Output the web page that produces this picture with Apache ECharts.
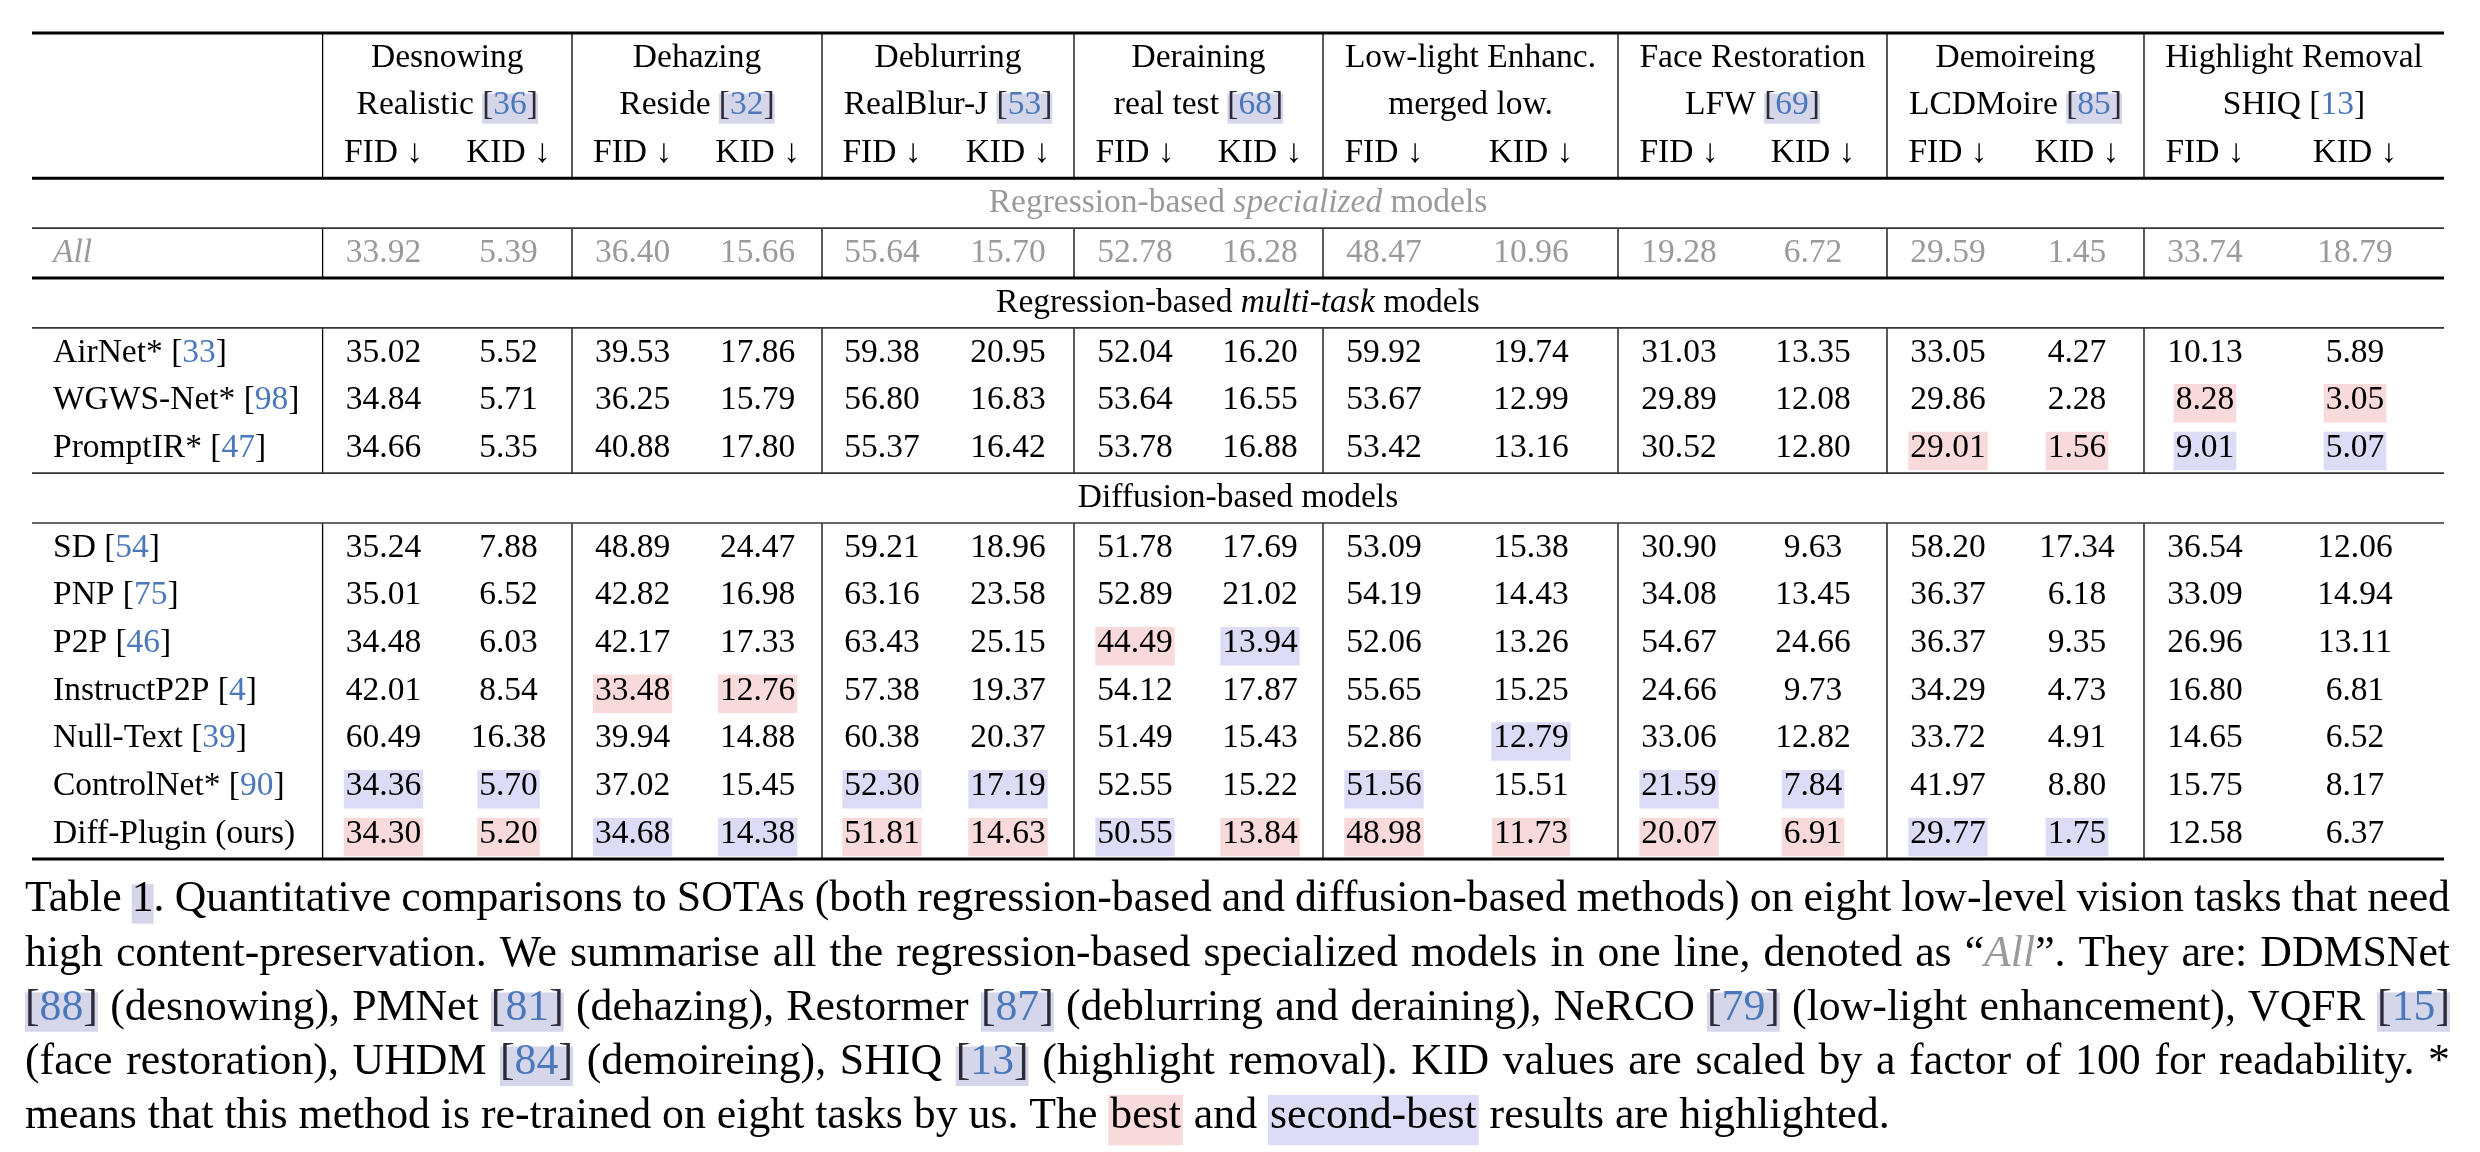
<!DOCTYPE html>
<html>
<head>
<meta charset="utf-8">
<script src="https://cdn.jsdelivr.net/npm/echarts@6/dist/echarts.min.js"></script>
<style>html,body{margin:0;padding:0;background:#fff}#c{width:2480px;height:1152px}</style>
</head>
<body>
<div id="c"></div>
<script>
// ---------------- DATA ----------------
const tasks = ['Desnowing', 'Dehazing', 'Deblurring', 'Deraining', 'Low-light Enhanc.', 'Face Restoration', 'Demoireing', 'Highlight Removal'];
const datasets = ['Realistic', 'Reside', 'RealBlur-J', 'real test', 'merged low.', 'LFW', 'LCDMoire', 'SHIQ'];
const datasetRefs = ['36', '32', '53', '68', '', '69', '85', '13'];
const datasetRefBoxed = [true, true, true, true, false, true, true, false];
const metrics = ['FID ↓', 'KID ↓'];

const sectionTitles = [
  ['Regression-based ', 'specialized', ' models'],
  ['Regression-based ', 'multi-task', ' models'],
  ['Diffusion-based models', '', '']
];

const specName = 'All';
const specValues = [33.92, 5.39, 36.40, 15.66, 55.64, 15.70, 52.78, 16.28, 48.47, 10.96, 19.28, 6.72, 29.59, 1.45, 33.74, 18.79];

const multiNames = ['AirNet*', 'WGWS-Net*', 'PromptIR*'];
const multiRefs = ['33', '98', '47'];
const multiValues = [
  [35.02, 5.52, 39.53, 17.86, 59.38, 20.95, 52.04, 16.20, 59.92, 19.74, 31.03, 13.35, 33.05, 4.27, 10.13, 5.89],
  [34.84, 5.71, 36.25, 15.79, 56.80, 16.83, 53.64, 16.55, 53.67, 12.99, 29.89, 12.08, 29.86, 2.28, 8.28, 3.05],
  [34.66, 5.35, 40.88, 17.80, 55.37, 16.42, 53.78, 16.88, 53.42, 13.16, 30.52, 12.80, 29.01, 1.56, 9.01, 5.07]
];
// 1 = best, 2 = second-best
const multiRanks = [
  [0,0,0,0,0,0,0,0,0,0,0,0,0,0,0,0],
  [0,0,0,0,0,0,0,0,0,0,0,0,0,0,1,1],
  [0,0,0,0,0,0,0,0,0,0,0,0,1,1,2,2]
];

const diffNames = ['SD', 'PNP', 'P2P', 'InstructP2P', 'Null-Text', 'ControlNet*', 'Diff-Plugin (ours)'];
const diffRefs = ['54', '75', '46', '4', '39', '90', ''];
const diffValues = [
  [35.24, 7.88, 48.89, 24.47, 59.21, 18.96, 51.78, 17.69, 53.09, 15.38, 30.90, 9.63, 58.20, 17.34, 36.54, 12.06],
  [35.01, 6.52, 42.82, 16.98, 63.16, 23.58, 52.89, 21.02, 54.19, 14.43, 34.08, 13.45, 36.37, 6.18, 33.09, 14.94],
  [34.48, 6.03, 42.17, 17.33, 63.43, 25.15, 44.49, 13.94, 52.06, 13.26, 54.67, 24.66, 36.37, 9.35, 26.96, 13.11],
  [42.01, 8.54, 33.48, 12.76, 57.38, 19.37, 54.12, 17.87, 55.65, 15.25, 24.66, 9.73, 34.29, 4.73, 16.80, 6.81],
  [60.49, 16.38, 39.94, 14.88, 60.38, 20.37, 51.49, 15.43, 52.86, 12.79, 33.06, 12.82, 33.72, 4.91, 14.65, 6.52],
  [34.36, 5.70, 37.02, 15.45, 52.30, 17.19, 52.55, 15.22, 51.56, 15.51, 21.59, 7.84, 41.97, 8.80, 15.75, 8.17],
  [34.30, 5.20, 34.68, 14.38, 51.81, 14.63, 50.55, 13.84, 48.98, 11.73, 20.07, 6.91, 29.77, 1.75, 12.58, 6.37]
];
const diffRanks = [
  [0,0,0,0,0,0,0,0,0,0,0,0,0,0,0,0],
  [0,0,0,0,0,0,0,0,0,0,0,0,0,0,0,0],
  [0,0,0,0,0,0,1,2,0,0,0,0,0,0,0,0],
  [0,0,1,1,0,0,0,0,0,0,0,0,0,0,0,0],
  [0,0,0,0,0,0,0,0,0,2,0,0,0,0,0,0],
  [2,2,0,0,2,2,0,0,2,0,2,2,0,0,0,0],
  [1,1,2,2,1,1,2,1,1,1,1,1,2,2,0,0]
];

const captionLines = [
  'Table {t:1}. Quantitative comparisons to SOTAs (both regression-based and diffusion-based methods) on eight low-level vision tasks that need',
  'high content-preservation. We summarise all the regression-based specialized models in one line, denoted as “{i:All}”. They are: DDMSNet',
  '{c:88} (desnowing), PMNet {c:81} (dehazing), Restormer {c:87} (deblurring and deraining), NeRCO {c:79} (low-light enhancement), VQFR {c:15}',
  '(face restoration), UHDM {c:84} (demoireing), SHIQ {c:13} (highlight removal). KID values are scaled by a factor of 100 for readability. *',
  'means that this method is re-trained on eight tasks by us. The {b:best} and {s:second-best} results are highlighted.'
];

// ---------------- LAYOUT / STYLE ----------------
const FAMILY = '"Liberation Serif", "Times New Roman", Times, serif';
const TFS = 33.5;
const fontN = s => s + 'px ' + FAMILY;
const fontI = s => 'italic ' + s + 'px ' + FAMILY;
const COL = { black: '#000', gray: '#9a9a9a', blue: '#4a78bb', bracket: '#2a2a38', citeBg: '#d6d6ea', best: '#f8dadb', second: '#dcdcf7', rule: '#000', thin: '#333' };
const tableLeft = 32, tableRight = 2444, methodX = 53;
const groupEdges = [322.6, 572, 822, 1074, 1323, 1618, 1887, 2144, 2444];
const colCenters = [383.5, 508.5, 632.6, 757.6, 882, 1008, 1135, 1260, 1384, 1531, 1679, 1813, 1948, 2077, 2205, 2355];
const hRules = [{ y: -0.5, w: 3.2, c: COL.rule }, { y: 2.5, w: 3.2, c: COL.rule }, { y: 3.5, w: 1.6, c: COL.thin }, { y: 4.5, w: 3.2, c: COL.rule },
                { y: 5.5, w: 1.6, c: COL.thin }, { y: 8.5, w: 1.6, c: COL.thin }, { y: 9.5, w: 1.6, c: COL.thin }, { y: 16.5, w: 3.2, c: COL.rule }];
const vSpans = [[-0.5, 2.5], [3.5, 4.5], [5.5, 8.5], [9.5, 16.5]];
// extra vertical space (in row units) that every horizontal rule adds, like booktabs rule separation
const RULE_GAP = 0.046;
function yv(t) {
  let g = 0;
  hRules.forEach(r => { if (r.y < t - 1e-6) g += RULE_GAP; else if (Math.abs(r.y - t) < 1e-6) g += RULE_GAP / 2; });
  return t + g;
}

const mctx = document.createElement('canvas').getContext('2d');
function tw(text, font) { mctx.font = font; return mctx.measureText(text).width; }

function plain(text, fs, fill, italic) { return { pieces: [{ text: text, font: italic ? fontI(fs) : fontN(fs), fill: fill || COL.black }] }; }
function cite(num, fs, boxed, numFill) {
  const bf = boxed ? COL.bracket : COL.black;
  const r = { pieces: [{ text: '[', font: fontN(fs), fill: bf }, { text: num, font: fontN(fs), fill: numFill || COL.blue }, { text: ']', font: fontN(fs), fill: bf }] };
  if (boxed) { r.bg = COL.citeBg; r.top = -0.36 * fs; r.bot = 0.54 * fs; r.pad = 0; }
  return r;
}
function boxPlain(text, fs) { return { pieces: [{ text: text, font: fontN(fs), fill: COL.black }], bg: COL.citeBg, top: -0.36 * fs, bot: 0.54 * fs, pad: 0 }; }
function hl(text, fs, rank) {
  return { pieces: [{ text: text, font: fontN(fs), fill: COL.black }], bg: rank === 1 ? COL.best : COL.second, top: -0.49 * fs, bot: 0.66 * fs, pad: 2 };
}
function runWidth(r) { return r.pieces.reduce((s, p) => s + tw(p.text, p.font), 0) + 2 * (r.bg ? (r.pad || 0) : 0); }
function runsWidth(runs) { return runs.reduce((s, r) => s + runWidth(r), 0); }

function emitRuns(runs, x, yc, out, useZ2) {
  runs.forEach(r => {
    const w = runWidth(r);
    if (r.bg) {
      const rect = { type: 'rect', shape: { x: x, y: yc + r.top, width: w, height: r.bot - r.top }, style: { fill: r.bg }, silent: true };
      if (useZ2) rect.z2 = 1; else rect.z = 1;
      out.push(rect);
    }
    let px = x + (r.bg ? (r.pad || 0) : 0);
    r.pieces.forEach(p => {
      const t = { type: 'text', x: px, y: yc, style: { text: p.text, font: p.font, fill: p.fill, align: 'left', verticalAlign: 'middle' }, silent: true };
      if (useZ2) t.z2 = 5; else t.z = 2;
      out.push(t);
      px += tw(p.text, p.font);
    });
    x += w;
  });
}

// ---------------- BUILD TABLE CELLS ----------------
const cells = [];
const fmt = v => v.toFixed(2);
for (let g = 0; g < tasks.length; g++) {
  const cx = (groupEdges[g] + groupEdges[g + 1]) / 2;
  cells.push({ x: cx, row: 0, align: 'center', runs: [plain(tasks[g], TFS)] });
  const r1 = [plain(datasets[g] + (datasetRefs[g] ? ' ' : ''), TFS)];
  if (datasetRefs[g]) r1.push(cite(datasetRefs[g], TFS, datasetRefBoxed[g]));
  cells.push({ x: cx, row: 1, align: 'center', runs: r1 });
}
colCenters.forEach((cx, c) => cells.push({ x: cx, row: 2, align: 'center', runs: [plain(metrics[c % 2], TFS)] }));

function sectionCell(row, parts, fill) {
  const runs = [];
  if (parts[0]) runs.push(plain(parts[0], TFS, fill));
  if (parts[1]) runs.push(plain(parts[1], TFS, fill, true));
  if (parts[2]) runs.push(plain(parts[2], TFS, fill));
  cells.push({ x: (tableLeft + tableRight) / 2, row: row, align: 'center', runs: runs });
}
function valueRow(row, values, ranks, fill) {
  values.forEach((v, c) => {
    const rk = ranks ? ranks[c] : 0;
    cells.push({ x: colCenters[c], row: row, align: 'center', runs: [rk ? hl(fmt(v), TFS, rk) : plain(fmt(v), TFS, fill)] });
  });
}
function methodCell(row, name, ref) {
  const runs = [plain(name + (ref ? ' ' : ''), TFS)];
  if (ref) runs.push(cite(ref, TFS, false));
  cells.push({ x: methodX, row: row, align: 'left', runs: runs });
}

sectionCell(3, sectionTitles[0], COL.gray);
cells.push({ x: methodX, row: 4, align: 'left', runs: [plain(specName, TFS, COL.gray, true)] });
valueRow(4, specValues, null, COL.gray);
sectionCell(5, sectionTitles[1], COL.black);
multiNames.forEach((n, i) => { methodCell(6 + i, n, multiRefs[i]); valueRow(6 + i, multiValues[i], multiRanks[i]); });
sectionCell(9, sectionTitles[2], COL.black);
diffNames.forEach((n, i) => { methodCell(10 + i, n, diffRefs[i]); valueRow(10 + i, diffValues[i], diffRanks[i]); });

// ---------------- CAPTION ----------------
function parseWord(w, fs) {
  const runs = []; const re = /\{(\w):([^}]*)\}/g; let last = 0, m;
  const addN = t => { if (t) runs.push(plain(t, fs)); };
  while ((m = re.exec(w))) {
    addN(w.slice(last, m.index));
    const k = m[1], t = m[2];
    if (k === 'c') runs.push(cite(t, fs, true));
    else if (k === 't') runs.push(boxPlain(t, fs));
    else if (k === 'i') runs.push(plain(t, fs, COL.gray, true));
    else if (k === 'b') runs.push(hl(t, fs, 1));
    else if (k === 's') runs.push(hl(t, fs, 2));
    last = re.lastIndex;
  }
  addN(w.slice(last));
  return runs;
}
function lineNatural(line, fs) {
  const words = line.split(' ');
  return words.reduce((s, w) => s + runsWidth(parseWord(w, fs)), 0) + (words.length - 1) * tw(' ', fontN(fs));
}
const capFs = 40 * 1866 / lineNatural(captionLines[captionLines.length - 1], 40);
const capX0 = 25, capX1 = 2450, capY0 = 900, capLH = 54.1;
const captionElements = [];
captionLines.forEach((line, li) => {
  const words = line.split(' ');
  const wr = words.map(w => parseWord(w, capFs));
  const ww = wr.map(runsWidth);
  const sum = ww.reduce((a, b) => a + b, 0);
  const justify = li < captionLines.length - 1;
  const gap = justify ? (capX1 - capX0 - sum) / (words.length - 1) : tw(' ', fontN(capFs));
  let x = capX0; const y = capY0 + li * capLH;
  words.forEach((w, i) => { emitRuns(wr[i], x, y, captionElements, false); x += ww[i] + gap; });
});

// ---------------- CHART ----------------
const chart = echarts.init(document.getElementById('c'), null, { renderer: 'canvas' });
chart.setOption({
  animation: false,
  backgroundColor: '#fff',
  grid: { left: 0, right: 0, top: 33, height: 826 },
  xAxis: { type: 'value', min: 0, max: 2480, show: false },
  yAxis: { type: 'value', min: yv(-0.5), max: yv(16.5), inverse: true, show: false },
  graphic: { elements: captionElements },
  series: [
    {
      type: 'custom', name: 'hrules', clip: false, silent: true,
      data: hRules.map((r, i) => [tableLeft, yv(r.y), i]),
      renderItem: function (params, api) {
        const r = hRules[api.value(2)];
        const p1 = api.coord([tableLeft, api.value(1)]);
        const p2 = api.coord([tableRight, api.value(1)]);
        return { type: 'line', shape: { x1: p1[0], y1: p1[1], x2: p2[0], y2: p2[1] }, style: { stroke: r.c, lineWidth: r.w }, z2: 3 };
      }
    },
    {
      type: 'custom', name: 'vrules', clip: false, silent: true,
      data: (function () { const d = []; groupEdges.slice(0, -1).forEach(x => vSpans.forEach(s => d.push([x, yv(s[0]), yv(s[1])]))); return d; })(),
      renderItem: function (params, api) {
        const p1 = api.coord([api.value(0), api.value(1)]);
        const p2 = api.coord([api.value(0), api.value(2)]);
        return { type: 'line', shape: { x1: p1[0], y1: p1[1], x2: p2[0], y2: p2[1] }, style: { stroke: COL.rule, lineWidth: 1.3 }, z2: 2 };
      }
    },
    {
      type: 'custom', name: 'cells', clip: false, silent: true,
      data: cells.map((c, i) => [c.x, yv(c.row), i]),
      renderItem: function (params, api) {
        const c = cells[api.value(2)];
        const p = api.coord([api.value(0), api.value(1)]);
        const W = runsWidth(c.runs);
        const x0 = c.align === 'center' ? p[0] - W / 2 : p[0];
        const children = [];
        emitRuns(c.runs, x0, p[1], children, true);
        return { type: 'group', children: children };
      }
    }
  ]
});
</script>
</body>
</html>
